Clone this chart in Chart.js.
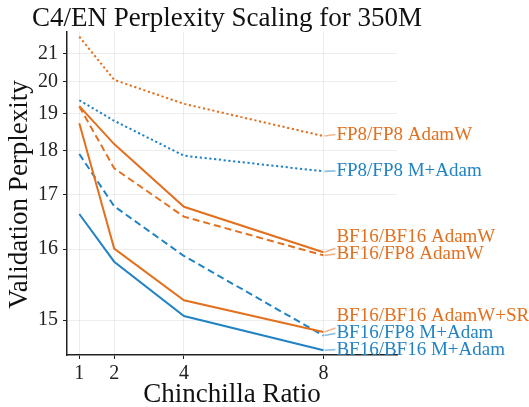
<!DOCTYPE html>
<html>
<head>
<meta charset="utf-8">
<script src="https://cdn.jsdelivr.net/npm/chart.js@4/dist/chart.umd.min.js"></script>
<style>
html,body{margin:0;padding:0;background:#fff;}
#wrap{width:529px;height:407px;position:relative;}
</style>
</head>
<body>
<div id="wrap"><canvas id="c"></canvas></div>
<script>
// ---- data ----
const chinchillaRatios = [1, 2, 4, 8];
const xTickValues = [1, 2, 4, 8];
const yTickValues = [15, 16, 17, 18, 19, 20, 21];
const seriesNames = [
  "FP8/FP8 AdamW",
  "FP8/FP8 M+Adam",
  "BF16/BF16 AdamW",
  "BF16/FP8 AdamW",
  "BF16/BF16 AdamW+SR",
  "BF16/FP8 M+Adam",
  "BF16/BF16 M+Adam"
];
const fp8fp8AdamW     = [21.68, 20.07, 19.30, 18.38];
const fp8fp8MAdam     = [19.41, 18.80, 17.88, 17.51];
const bf16bf16AdamW   = [19.23, 18.17, 16.76, 15.95];
const bf16fp8AdamW    = [19.22, 17.58, 16.57, 15.90];
const bf16bf16AdamWSR = [18.73, 16.01, 15.25, 14.86];
const bf16fp8MAdam    = [17.92, 16.77, 15.89, 14.82];
const bf16bf16MAdam   = [16.62, 15.80, 15.05, 14.66];

// ---- styles ----
const ORANGE = '#e2701e';
const BLUE = '#2283c4';
const FONT = '"Liberation Serif", "Times New Roman", serif';
const styleList = [
  {color: ORANGE, dash: [2.2, 2.6]},
  {color: BLUE,   dash: [2.2, 2.6]},
  {color: ORANGE, dash: []},
  {color: ORANGE, dash: [7, 4]},
  {color: ORANGE, dash: []},
  {color: BLUE,   dash: [7, 4]},
  {color: BLUE,   dash: []}
];
// label placement (pixel offsets from the last point)
const labelTextDy = [-1.5, -0.5, -15.3, -1.7, -16.5, -2.2, -0.6];
const labelConnDy = [-1.5, -0.5, -4, -1.2, -4, -2.2, -0.6];

const seriesValues = [fp8fp8AdamW, fp8fp8MAdam, bf16bf16AdamW, bf16fp8AdamW, bf16bf16AdamWSR, bf16fp8MAdam, bf16bf16MAdam];

// ---- custom perplexity scale: position ~ log(ppl - C) ----
const C_OFF = 12.2;
const tf = v => Math.log(v - C_OFF);
class PplScale extends Chart.Scale {
  determineDataLimits() { this.min = this.options.min; this.max = this.options.max; }
  buildTicks() { return yTickValues.map(v => ({value: v})); }
  getLabelForValue(v) { return String(v); }
  configure() {
    super.configure();
    this._t0 = tf(this.min);
    this._t1 = tf(this.max);
  }
  getPixelForValue(v) {
    return this.getPixelForDecimal((tf(v) - this._t0) / (this._t1 - this._t0));
  }
  getPixelForTick(i) { return this.getPixelForValue(this.ticks[i].value); }
  getValueForPixel(p) {
    const d = this.getDecimalForPixel(p);
    return C_OFF + Math.exp(this._t0 + d * (this._t1 - this._t0));
  }
}
PplScale.id = 'ppl';
PplScale.defaults = {};
Chart.register(PplScale);

const datasets = seriesNames.map((name, i) => ({
  label: name,
  data: chinchillaRatios.map((x, j) => ({x: x, y: seriesValues[i][j]})),
  borderColor: styleList[i].color,
  backgroundColor: styleList[i].color,
  borderDash: styleList[i].dash,
  borderWidth: 2,
  pointRadius: 0,
  tension: 0,
  fill: false
}));

const textPlugin = {
  id: 'texts',
  afterDatasetsDraw(chart) {
    const ctx = chart.ctx;
    const xs = chart.scales.x, ys = chart.scales.y;
    ctx.save();
    seriesNames.forEach((name, i) => {
      const vals = seriesValues[i];
      const px = xs.getPixelForValue(chinchillaRatios[chinchillaRatios.length - 1]);
      const py = ys.getPixelForValue(vals[vals.length - 1]);
      ctx.strokeStyle = styleList[i].color;
      ctx.globalAlpha = 0.5;
      ctx.lineWidth = 1.6;
      ctx.setLineDash([]);
      ctx.beginPath();
      ctx.moveTo(px + 1, py);
      ctx.moveTo(px + 1, py);
      ctx.lineTo(px + 12, py + labelConnDy[i]);
      ctx.stroke();
      ctx.globalAlpha = 1;
      ctx.fillStyle = styleList[i].color;
      ctx.font = '19px ' + FONT;
      ctx.textAlign = 'left';
      ctx.textBaseline = 'middle';
      ctx.fillText(name, px + 13, py + labelTextDy[i]);
    });
    ctx.restore();
  },
  afterDraw(chart) {
    const ctx = chart.ctx;
    const a = chart.chartArea;
    ctx.save();
    ctx.fillStyle = '#111';
    ctx.font = '27px ' + FONT;
    ctx.textAlign = 'left';
    ctx.textBaseline = 'alphabetic';
    ctx.fillText('C4/EN Perplexity Scaling for 350M', 32, 26);
    ctx.textAlign = 'center';
    ctx.textBaseline = 'middle';
    ctx.fillText('Chinchilla Ratio', (a.left + a.right) / 2, 395);
    ctx.translate(20, (a.top + a.bottom) / 2 + 1);
    ctx.rotate(-Math.PI / 2);
    ctx.fillText('Validation Perplexity', 0, 0);
    ctx.restore();
  }
};

new Chart(document.getElementById('c'), {
  type: 'line',
  data: {datasets: datasets},
  options: {
    responsive: true,
    maintainAspectRatio: false,
    animation: false,
    devicePixelRatio: 1,
    layout: {padding: {top: 32, right: 132, left: 0, bottom: 0}},
    plugins: {legend: {display: false}, tooltip: {enabled: false}, title: {display: false}},
    scales: {
      x: {
        type: 'linear',
        min: 0.647,
        max: 10.11,
        afterBuildTicks: s => { s.ticks = xTickValues.map(v => ({value: v})); },
        afterFit: s => { s.height = 52; },
        grid: {color: 'rgba(0,0,0,0.07)', lineWidth: 1, tickLength: 4, tickColor: '#222', drawTicks: true},
        border: {color: '#222', width: 1.5},
        ticks: {font: {family: FONT, size: 20}, color: '#222', padding: 3, maxRotation: 0, autoSkip: false}
      },
      y: {
        type: 'ppl',
        position: 'left',
        min: 14.61,
        max: 21.87,
        afterFit: s => { s.width = 67; },
        grid: {color: 'rgba(0,0,0,0.07)', lineWidth: 1, tickLength: 4, tickColor: '#222', drawTicks: true},
        border: {color: '#222', width: 1.5},
        ticks: {font: {family: FONT, size: 20}, color: '#222', padding: 5, autoSkip: false}
      }
    }
  },
  plugins: [textPlugin]
});
</script>
</body>
</html>
